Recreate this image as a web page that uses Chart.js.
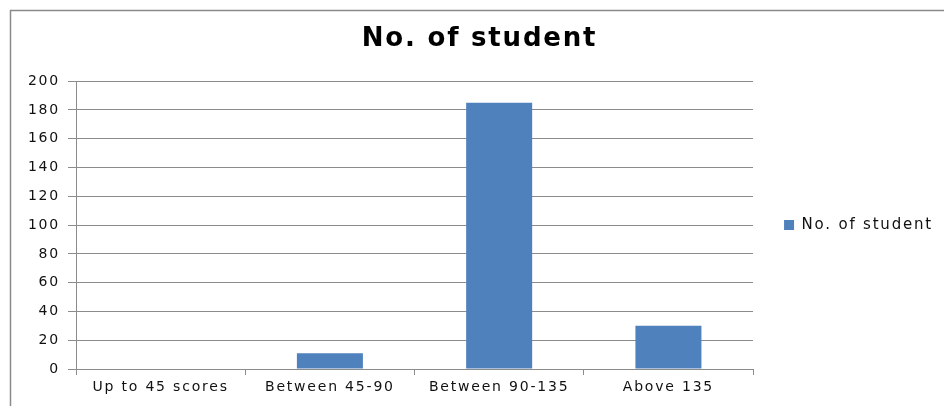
<!DOCTYPE html>
<html>
<head>
<meta charset="utf-8">
<script src="https://cdn.jsdelivr.net/npm/chart.js@4/dist/chart.umd.min.js"></script>
<style>
  html, body { margin: 0; padding: 0; background: #fff; }
  #wrap { width: 944px; height: 406px; position: relative; }
</style>
</head>
<body>
<div id="wrap"><canvas id="chart"></canvas></div>
<script>
// Score bands and how many students fall into each
const categories = ['Up to 45 scores', 'Between 45-90', 'Between 90-135', 'Above 135'];
const studentCounts = [0, 11, 185, 30];
const seriesLabel = 'No. of student';

// Value axis range
const yMin = 0;
const yMax = 200;
const yStep = 20;

const FONT = 'DejaVu Sans';
const GRID = '#8c8c8c';
const BAR = '#4f81bd';
const SPACING = '1.8px';

// Wide text spacing for every label drawn on the canvas
const spacing = {
  id: 'spacing',
  beforeUpdate(chart) { chart.ctx.letterSpacing = SPACING; },
  beforeLayout(chart) { chart.ctx.letterSpacing = SPACING; },
  beforeDraw(chart) { chart.ctx.letterSpacing = SPACING; }
};

// Thin frame along the top and left of the chart
const frame = {
  id: 'frame',
  beforeDraw(chart) {
    const ctx = chart.ctx;
    ctx.save();
    ctx.strokeStyle = '#8a8a8a';
    ctx.lineWidth = 1.5;
    ctx.beginPath();
    ctx.moveTo(10.5, chart.height + 5);
    ctx.lineTo(10.5, 10.5);
    ctx.lineTo(chart.width + 5, 10.5);
    ctx.stroke();
    ctx.restore();
  }
};

new Chart(document.getElementById('chart'), {
  type: 'bar',
  data: {
    labels: categories,
    datasets: [{
      label: seriesLabel,
      data: studentCounts,
      backgroundColor: BAR,
      borderWidth: 0,
      categoryPercentage: 1,
      barPercentage: 0.39
    }]
  },
  options: {
    responsive: true,
    maintainAspectRatio: false,
    animation: false,
    layout: { padding: { left: 16, right: 1, top: 0, bottom: 0 } },
    plugins: {
      title: {
        display: true,
        text: seriesLabel,
        color: '#000',
        font: { family: FONT, size: 26, weight: 'bold' },
        padding: { top: 24, bottom: 26 }
      },
      legend: {
        position: 'right',
        fullSize: false,
        labels: {
          boxWidth: 10,
          boxHeight: 10,
          color: '#111',
          font: { family: FONT, size: 15 },
          padding: 31
        }
      },
      tooltip: { enabled: false }
    },
    scales: {
      x: {
        grid: { drawOnChartArea: false, drawTicks: true, tickLength: 6, offset: true, color: GRID },
        border: { color: GRID },
        ticks: { color: '#111', font: { family: FONT, size: 14 }, padding: 4, maxRotation: 0 },
        afterFit(scale) { scale.height = 37; }
      },
      y: {
        min: yMin,
        max: yMax,
        grid: { color: GRID, tickLength: 8 },
        border: { color: GRID },
        ticks: { stepSize: yStep, color: '#111', font: { family: FONT, size: 14 }, padding: 8 },
        afterFit(scale) { scale.width = 60; }
      }
    }
  },
  plugins: [spacing, frame]
});
</script>
</body>
</html>
